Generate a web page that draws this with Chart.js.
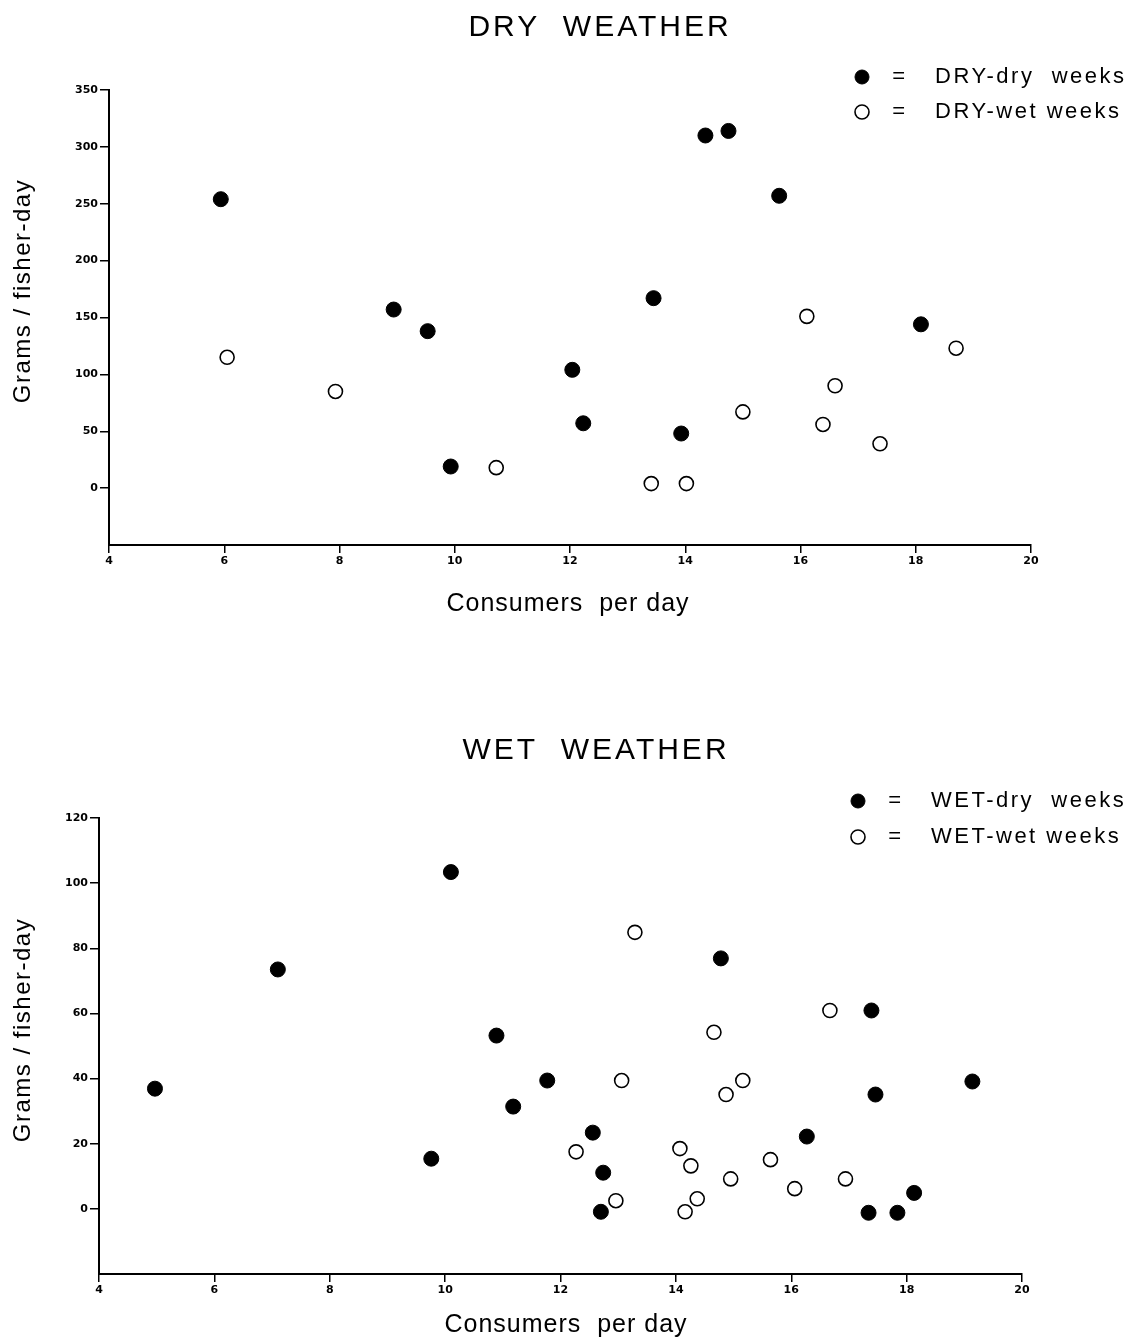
<!DOCTYPE html>
<html>
<head>
<meta charset="utf-8">
<script src="https://cdn.jsdelivr.net/npm/chart.js@4.4.1/dist/chart.umd.min.js"></script>
<style>
  html, body { margin: 0; padding: 0; background: #fff; }
  body { width: 1135px; height: 1339px; position: relative; overflow: hidden; }
  .panel { position: absolute; left: 0; width: 1135px; }
  #dryBox { top: 0; height: 640px; }
  #wetBox { top: 700px; height: 639px; }
</style>
</head>
<body>
<div class="panel" id="dryBox"><canvas id="dryChart"></canvas></div>
<div class="panel" id="wetBox"><canvas id="wetChart"></canvas></div>

<script>
// === data ===

// DRY weather, dry weeks (filled)
const dryDryX = [5.94, 8.94, 9.53, 9.93, 12.04, 12.23, 13.45, 13.93, 14.35, 14.75, 15.63, 18.09];
const dryDryY = [254, 157, 138, 19, 104, 57, 167, 48, 310, 314, 257, 144];

// DRY weather, wet weeks (open)
const dryWetX = [6.05, 7.93, 10.72, 13.41, 14.02, 15.0, 16.11, 16.6, 16.39, 17.38, 18.7];
const dryWetY = [115, 85, 18, 4, 4, 67, 151, 90, 56, 39, 123];

// WET weather, dry weeks (filled)
const wetDryX = [4.97, 7.1, 9.76, 10.1, 10.89, 11.18, 11.77, 12.56, 12.74, 12.7, 14.78, 16.27, 17.39, 17.46, 17.34, 17.84, 18.13, 19.14];
const wetDryY = [36.9, 73.5, 15.4, 103.4, 53.2, 31.4, 39.4, 23.4, 11.1, -0.9, 76.9, 22.2, 60.9, 35.1, -1.2, -1.2, 4.9, 39.1];

// WET weather, wet weeks (open)
const wetWetX = [13.29, 13.06, 12.27, 12.96, 14.66, 14.87, 15.16, 14.07, 14.26, 14.37, 14.16, 14.95, 15.64, 16.06, 16.67, 16.94];
const wetWetY = [84.9, 39.4, 17.5, 2.5, 54.2, 35.1, 39.4, 18.5, 13.2, 3.1, -0.9, 9.2, 15.1, 6.2, 60.9, 9.2];

// axis ranges / tick steps
const xRange = [4, 20];
const xStep = 2;
const dryYRange = [-50, 350];
const dryYStep = 50;
const wetYRange = [-20, 120];
const wetYStep = 20;

const dryLegend = ["DRY-dry  weeks", "DRY-wet weeks"];
const wetLegend = ["WET-dry  weeks", "WET-wet weeks"];

const SANS = '"Liberation Sans", Arial, Helvetica, sans-serif';

// helper: zip x/y arrays into scatter points
function toPoints(xs, ys) {
  return xs.map((x, i) => ({ x: x, y: ys[i] }));
}

// plugin: heading, legend and axis titles in the style of the printed figure
const paperText = {
  id: "paperText",
  afterDraw(chart, args, o) {
    const ctx = chart.ctx;
    ctx.save();
    ctx.fillStyle = "#000";
    ctx.textBaseline = "middle";

    // heading
    ctx.font = "30px " + SANS;
    ctx.letterSpacing = "3px";
    ctx.textAlign = "center";
    ctx.fillText(o.title, o.titleX, o.titleY);

    // legend rows: marker  =  label
    ctx.font = "22px " + SANS;
    ctx.letterSpacing = "2.5px";
    o.legend.forEach((txt, i) => {
      const ds = chart.data.datasets[i];
      const y = o.legendY + i * o.legendGap;
      ctx.beginPath();
      ctx.arc(o.legendX, y, 7, 0, Math.PI * 2);
      ctx.fillStyle = ds.pointBackgroundColor;
      ctx.fill();
      ctx.lineWidth = ds.pointBorderWidth;
      ctx.strokeStyle = "#000";
      ctx.stroke();
      ctx.fillStyle = "#000";
      ctx.textAlign = "center";
      ctx.fillText("=", o.legendX + 38, y);
      ctx.textAlign = "left";
      ctx.fillText(txt, o.legendX + 73, y);
    });

    // x axis title
    ctx.font = "25px " + SANS;
    ctx.letterSpacing = "1px";
    ctx.textAlign = "center";
    ctx.fillText("Consumers  per day", o.xTitleX, o.xTitleY);

    // y axis title (rotated)
    ctx.font = "24px " + SANS;
    ctx.letterSpacing = "1.5px";
    ctx.translate(o.yTitleX, o.yTitleY);
    ctx.rotate(-Math.PI / 2);
    ctx.fillText("Grams / fisher-day", 0, 0);

    ctx.restore();
  }
};

function makeScatter(canvasId, sets, yRange, yStep, box, text) {
  const ctx = document.getElementById(canvasId).getContext("2d");
  return new Chart(ctx, {
    type: "scatter",
    data: {
      datasets: [
        {
          label: text.legend[0],
          data: sets[0],
          pointRadius: 7.5,
          pointHoverRadius: 7.5,
          pointBackgroundColor: "#000",
          pointBorderColor: "#000",
          pointBorderWidth: 1
        },
        {
          label: text.legend[1],
          data: sets[1],
          pointRadius: 7,
          pointHoverRadius: 7,
          pointBackgroundColor: "#fff",
          pointBorderColor: "#000",
          pointBorderWidth: 1.6
        }
      ]
    },
    options: {
      responsive: true,
      maintainAspectRatio: false,
      animation: false,
      devicePixelRatio: 1,
      layout: {
        padding: { top: box.top, right: box.right, left: 0, bottom: 0 }
      },
      plugins: {
        legend: { display: false },
        title: { display: false },
        tooltip: { enabled: false },
        paperText: text
      },
      scales: {
        x: {
          type: "linear",
          min: xRange[0],
          max: xRange[1],
          afterFit: (s) => { s.height = box.xHeight; },
          ticks: {
            stepSize: xStep,
            color: "#000",
            padding: 2,
            font: { family: "DejaVu Sans", size: 11, weight: "bold" }
          },
          grid: {
            drawOnChartArea: false,
            drawTicks: true,
            tickLength: 8,
            color: "#000",
            lineWidth: 1.5
          },
          border: { display: true, color: "#000", width: 2 }
        },
        y: {
          type: "linear",
          min: yRange[0],
          max: yRange[1],
          afterFit: (s) => { s.width = box.left; },
          ticks: {
            stepSize: yStep,
            color: "#000",
            padding: 2,
            font: { family: "DejaVu Sans", size: 11, weight: "bold" },
            // the bottom end of the axis carries no label or tick
            callback: (v) => (v === yRange[0] ? null : v)
          },
          grid: {
            drawOnChartArea: false,
            drawTicks: true,
            tickLength: 9,
            color: "#000",
            lineWidth: 1.5
          },
          border: { display: true, color: "#000", width: 2 }
        }
      }
    },
    plugins: [paperText]
  });
}

document.addEventListener("DOMContentLoaded", () => {
  // top panel: DRY WEATHER
  makeScatter(
    "dryChart",
    [toPoints(dryDryX, dryDryY), toPoints(dryWetX, dryWetY)],
    dryYRange,
    dryYStep,
    { top: 90, right: 104, left: 109, xHeight: 95 },
    {
      title: "DRY  WEATHER",
      titleX: 600,
      titleY: 28,
      legend: dryLegend,
      legendX: 862,
      legendY: 77,
      legendGap: 35,
      xTitleX: 568,
      xTitleY: 604,
      yTitleX: 23,
      yTitleY: 291
    }
  );

  // bottom panel: WET WEATHER
  makeScatter(
    "wetChart",
    [toPoints(wetDryX, wetDryY), toPoints(wetWetX, wetWetY)],
    wetYRange,
    wetYStep,
    { top: 118, right: 113, left: 99, xHeight: 65 },
    {
      title: "WET  WEATHER",
      titleX: 596,
      titleY: 51,
      legend: wetLegend,
      legendX: 858,
      legendY: 101,
      legendGap: 36,
      xTitleX: 566,
      xTitleY: 625,
      yTitleX: 23,
      yTitleY: 330
    }
  );
});
</script>
</body>
</html>
